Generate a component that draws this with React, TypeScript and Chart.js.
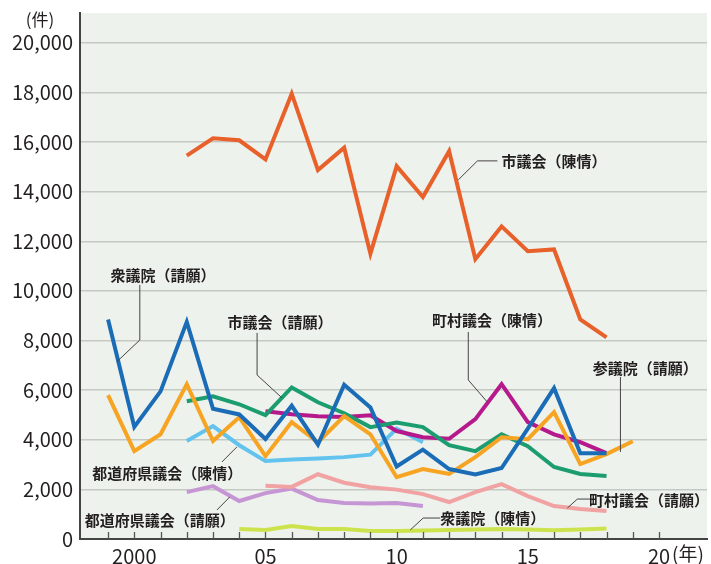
import React, { useEffect, useRef } from "react";
import { Chart, registerables } from "chart.js";

Chart.register(...registerables);

const YEARS = [1999, 2000, 2001, 2002, 2003, 2004, 2005, 2006, 2007, 2008, 2009, 2010, 2011, 2012, 2013, 2014, 2015, 2016, 2017, 2018, 2019];
const TICK_YEARS = [1999, 2000, 2001, 2002, 2003, 2004, 2005, 2006, 2007, 2008, 2009, 2010, 2011, 2012, 2013, 2014, 2015, 2016, 2017, 2018, 2019, 2020];
const X_LABELS: Record<number, string> = { 2000: "2000", 2005: "05", 2010: "10", 2015: "15", 2020: "20" };
const Y_TICKS = [0, 2000, 4000, 6000, 8000, 10000, 12000, 14000, 16000, 18000, 20000];

const SHI_CHINJO = [null, null, null, 15450, 16150, 16070, 15300, 17950, 14870, 15770, 11500, 15030, 13780, 15630, 11280, 12600, 11600, 11670, 8850, 8130, null];
const SHUGIIN_SEIGAN = [8850, 4520, 5950, 8750, 5250, 5020, 4030, 5370, 3800, 6220, 5300, 2920, 3600, 2820, 2600, 2860, 4450, 6080, 3460, 3460, null];
const SANGIIN_SEIGAN = [5800, 3540, 4220, 6240, 3950, 4910, 3340, 4710, 3900, 4950, 4220, 2490, 2820, 2620, 3300, 4100, 4020, 5110, 3020, 3420, 3940];
const SHI_SEIGAN = [null, null, null, 5550, 5750, 5430, 4990, 6110, 5510, 5070, 4510, 4690, 4510, 3780, 3540, 4220, 3740, 2900, 2620, 2540, null];
const CHOSON_CHINJO = [null, null, null, null, null, null, 5150, 5030, 4950, 4920, 4990, 4350, 4100, 4040, 4830, 6240, 4710, 4220, 3900, 3460, null];
const TODOFUKEN_CHINJO = [null, null, null, 3950, 4550, 3780, 3140, 3200, 3240, 3300, 3400, 4450, 3900, null, null, null, null, null, null, null, null];
const CHOSON_SEIGAN = [null, null, null, null, null, null, 2150, 2100, 2610, 2270, 2090, 1990, 1810, 1490, 1890, 2210, 1730, 1330, 1210, 1130, null];
const TODOFUKEN_SEIGAN = [null, null, null, 1890, 2130, 1530, 1850, 2030, 1570, 1450, 1430, 1450, 1330, null, null, null, null, null, null, null, null];
const SHUGIIN_CHINJO = [null, null, null, null, null, 400, 360, 520, 400, 400, 320, 320, 340, 360, 380, 400, 380, 350, 380, 420, null];

const SERIES = [
  { name: "市議会（陳情）", values: SHI_CHINJO, color: "#e8612a" },
  { name: "衆議院（請願）", values: SHUGIIN_SEIGAN, color: "#1a6cb6" },
  { name: "参議院（請願）", values: SANGIIN_SEIGAN, color: "#f6a421" },
  { name: "市議会（請願）", values: SHI_SEIGAN, color: "#1c9d70" },
  { name: "町村議会（陳情）", values: CHOSON_CHINJO, color: "#b5198c" },
  { name: "都道府県議会（陳情）", values: TODOFUKEN_CHINJO, color: "#62c3ef" },
  { name: "町村議会（請願）", values: CHOSON_SEIGAN, color: "#f1a2a2" },
  { name: "都道府県議会（請願）", values: TODOFUKEN_SEIGAN, color: "#c595d4" },
  { name: "衆議院（陳情）", values: SHUGIIN_CHINJO, color: "#cde34e" },
];

// label: [centerYear, centerValue], leader: polyline in data coordinates
const ANNOTATIONS = [
  { text: "市議会（陳情）", at: [2016.0, 15240], leader: [[2013.84, 15240], [2013.08, 15240], [2012.35, 14475]] },
  { text: "衆議院（請願）", at: [2001.09, 10645], leader: [[2000.21, 10240], [2000.21, 8020], [1999.33, 7140]] },
  { text: "市議会（請願）", at: [2005.55, 8750], leader: [[2004.68, 8305], [2004.68, 6610], [2005.63, 5685]] },
  { text: "町村議会（陳情）", at: [2013.63, 8830], leader: [[2012.73, 8345], [2012.73, 6410], [2013.45, 5525]] },
  { text: "参議院（請願）", at: [2019.48, 6895], leader: [[2018.53, 6530], [2018.53, 3510]] },
  { text: "都道府県議会（陳情）", at: [2001.26, 2660], leader: [[2003.34, 3105], [2003.91, 3710]] },
  { text: "都道府県議会（請願）", at: [2000.97, 765], leader: [[2003.15, 1170], [2003.64, 1695]] },
  { text: "町村議会（請願）", at: [2019.62, 1570], leader: [[2017.39, 1610], [2016.89, 1610], [2016.51, 1250]] },
  { text: "衆議院（陳情）", at: [2013.66, 845], leader: [[2011.66, 845], [2011.01, 845], [2010.52, 365]] },
];

const FONT = "'Noto Sans CJK JP', 'Noto Sans', sans-serif";

const decorPlugin = {
  id: "decor",
  beforeDraw(chart: any) {
    const { ctx, chartArea } = chart;
    ctx.save();
    ctx.fillStyle = "#eef2ec";
    ctx.fillRect(chartArea.left, chartArea.top, chartArea.right - chartArea.left, chartArea.bottom - chartArea.top);
    ctx.restore();
  },
  afterDatasetsDraw(chart: any) {
    const { ctx, chartArea } = chart;
    const xs = chart.scales.x;
    const ys = chart.scales.y;
    ctx.save();
    // inside tick marks
    ctx.strokeStyle = "#555";
    ctx.lineWidth = 1.3;
    TICK_YEARS.forEach((yr) => {
      const px = Math.round(xs.getPixelForValue(yr)) + 0.5;
      ctx.beginPath();
      ctx.moveTo(px, chartArea.bottom);
      ctx.lineTo(px, chartArea.bottom - 7);
      ctx.stroke();
    });
    // leaders
    ctx.strokeStyle = "#444";
    ctx.lineWidth = 1;
    ANNOTATIONS.forEach((a) => {
      ctx.beginPath();
      a.leader.forEach((p, i) => {
        const px = xs.getPixelForValue(p[0]);
        const py = ys.getPixelForValue(p[1]);
        if (i === 0) ctx.moveTo(px, py);
        else ctx.lineTo(px, py);
      });
      ctx.stroke();
    });
    // labels
    ctx.fillStyle = "#231f20";
    ctx.font = `bold 15px ${FONT}`;
    ctx.textAlign = "center";
    ctx.textBaseline = "middle";
    ANNOTATIONS.forEach((a) => {
      ctx.fillText(a.text, xs.getPixelForValue(a.at[0]), ys.getPixelForValue(a.at[1]));
    });
    ctx.restore();
  },
  afterDraw(chart: any) {
    const { ctx, chartArea } = chart;
    const xs = chart.scales.x;
    ctx.save();
    ctx.fillStyle = "#231f20";
    ctx.font = `17px ${FONT}`;
    ctx.textAlign = "center";
    ctx.textBaseline = "middle";
    ctx.fillText("(件)", chartArea.left - 40, chartArea.top + 7);
    ctx.font = `20px ${FONT}`;
    const w20 = ctx.measureText("20").width;
    ctx.textAlign = "left";
    ctx.font = `19px ${FONT}`;
    ctx.fillText("(年)", xs.getPixelForValue(2020) + w20 / 2 + 2, chartArea.bottom + 15);
    ctx.restore();
  },
};

export default function App() {
  const ref = useRef<HTMLCanvasElement | null>(null);
  useEffect(() => {
    document.body.style.margin = "0";
    const canvas = ref.current;
    if (!canvas) return;
    const datasets = SERIES.map((s, i) => ({
      label: s.name,
      data: YEARS.map((yr, j) => ({ x: yr, y: s.values[j] })).filter((p) => p.y !== null),
      borderColor: s.color,
      backgroundColor: s.color,
      borderWidth: 4,
      pointRadius: 0,
      tension: 0,
      fill: false,
      borderJoinStyle: "miter" as const,
      order: i,
    }));
    const chart = new Chart(canvas, {
      type: "line",
      data: { datasets },
      options: {
        animation: false,
        responsive: false,
        maintainAspectRatio: false,
        layout: { padding: { top: 13, right: 4, left: 0, bottom: 0 } },
        plugins: { legend: { display: false }, tooltip: { enabled: false } },
        scales: {
          x: {
            type: "linear",
            min: 1997.93,
            max: 2021.83,
            afterBuildTicks: (scale: any) => {
              scale.ticks = TICK_YEARS.map((v) => ({ value: v }));
            },
            ticks: {
              autoSkip: false,
              maxRotation: 0,
              padding: 5,
              color: "#231f20",
              font: { family: FONT, size: 20 },
              callback: (v: any) => X_LABELS[Number(v)] ?? "",
            },
            grid: { display: true, drawOnChartArea: false, drawTicks: false },
            border: { display: true, color: "#444", width: 2 },
            afterFit: (scale: any) => {
              scale.height = 25;
              scale.paddingLeft = 0;
              scale.paddingRight = 0;
            },
          },
          y: {
            type: "linear",
            min: 0,
            max: 21200,
            afterBuildTicks: (scale: any) => {
              scale.ticks = Y_TICKS.map((v) => ({ value: v }));
            },
            ticks: {
              padding: 7,
              color: "#231f20",
              font: { family: FONT, size: 20 },
              callback: (v: any) => Number(v).toLocaleString("en-US"),
            },
            grid: { color: "#c5c9c4", lineWidth: 1.5, drawTicks: false },
            border: { display: true, color: "#444", width: 2 },
            afterFit: (scale: any) => {
              scale.width = 80;
              scale.paddingTop = 0;
              scale.paddingBottom = 0;
            },
          },
        },
      },
      plugins: [decorPlugin],
    });
    return () => chart.destroy();
  }, []);
  return <canvas ref={ref} width={711} height={564} style={{ display: "block" }} />;
}
